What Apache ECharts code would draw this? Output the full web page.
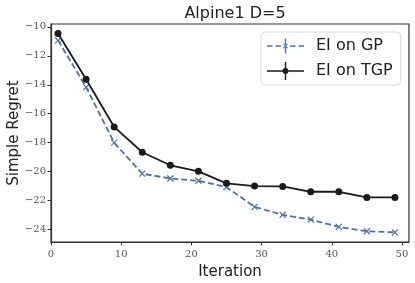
<!DOCTYPE html>
<html><head><meta charset="utf-8">
<script src="https://cdn.jsdelivr.net/npm/echarts@6/dist/echarts.min.js"></script>
<style>html,body{margin:0;padding:0;background:#fff}#c{width:415px;height:283px}</style>
</head><body><div id="c"></div>
<script>
const iterations = [1, 5, 9, 13, 17, 21, 25, 29, 33, 37, 41, 45, 49];
const eiGP  = [-10.93, -14.16, -18.0, -20.14, -20.47, -20.63, -21.07, -22.43, -22.99, -23.31, -23.82, -24.12, -24.19];
const eiTGP = [-10.45, -13.62, -16.91, -18.66, -19.56, -19.98, -20.81, -21.0, -21.02, -21.39, -21.39, -21.78, -21.78];
const yTicks = [-24, -22, -20, -18, -16, -14, -12, -10];
const xTicks = [0, 10, 20, 30, 40, 50];

const blue = '#4C72B0', black = '#1a1a1a';
const gpIcon = 'path://M0 8.2H5.5V9.8H0Z M8.5 8.2H14V9.8H8.5Z M23 8.2H28.5V9.8H23Z M31.5 8.2H37V9.8H31.5Z M17.8 1.5H19.2V16.5H17.8Z M15.9 7.1L16.6 6.4L21.1 10.9L20.4 11.6Z M20.4 6.4L21.1 7.1L16.6 11.6L15.9 10.9Z M0 0H0.01V0.01H0Z M36.99 17.99H37V18H36.99Z';
const tgpIcon = 'path://M0 8.2H37V9.8H0Z M17.8 0H19.2V18H17.8Z M15.6 9a2.9 2.9 0 1 1 5.8 0a2.9 2.9 0 1 1 -5.8 0Z';

const chart = echarts.init(document.getElementById('c'), null, {renderer: 'canvas'});
chart.setOption({
  animation: false,
  title: {text: 'Alpine1 D=5', left: 230, top: 1, textAlign: 'center',
    textStyle: {fontFamily: 'DejaVu Sans', fontSize: 16, fontWeight: 'normal', color: '#222'}},
  grid: {left: 51, right: 6, top: 24, bottom: 41, outerBoundsMode: 'none', containLabel: false,
    show: true, borderColor: '#333', borderWidth: 1.2, backgroundColor: 'transparent'},
  legend: {
    orient: 'vertical', left: 261, top: 32, padding: [5, 8, 5, 6],
    itemWidth: 37, itemHeight: 18, itemGap: 7,
    backgroundColor: 'rgba(255,255,255,0.8)', borderColor: '#d8d8d8', borderWidth: 1, borderRadius: 4,
    textStyle: {fontFamily: 'DejaVu Sans', fontSize: 16, color: '#222', padding: [0, 0, 0, 7]},
    data: [
      {name: 'EI on GP', icon: gpIcon, itemStyle: {color: blue, borderWidth: 0, opacity: 1}},
      {name: 'EI on TGP', icon: tgpIcon, itemStyle: {color: black, borderWidth: 0, opacity: 1}}
    ]
  },
  xAxis: {
    type: 'value', min: 0, max: 51,
    name: 'Iteration', nameLocation: 'middle', nameGap: 23, nameMoveOverlap: false,
    nameTextStyle: {fontFamily: 'DejaVu Sans', fontSize: 15, color: '#222'},
    axisLine: {show: true, lineStyle: {color: '#333', width: 1.2}},
    axisTick: {show: true, length: 3.5, lineStyle: {color: '#333'}, customValues: xTicks},
    axisLabel: {fontFamily: 'DejaVu Serif', fontSize: 10, color: '#555', margin: 7, customValues: xTicks},
    splitLine: {show: false}
  },
  yAxis: {
    type: 'value', min: -24.86, max: -9.8,
    name: 'Simple Regret', nameLocation: 'middle', nameGap: 29, nameMoveOverlap: false,
    nameTextStyle: {fontFamily: 'DejaVu Sans', fontSize: 15, color: '#222'},
    axisLine: {show: true, lineStyle: {color: '#333', width: 1.2}},
    axisTick: {show: true, length: 3.5, lineStyle: {color: '#333'}, customValues: yTicks},
    axisLabel: {fontFamily: 'DejaVu Serif', fontSize: 10, color: '#555', margin: 5, customValues: yTicks,
      formatter: v => (v < 0 ? '\u2212' + Math.abs(v) : String(v))},
    splitLine: {show: false}
  },
  series: [
    {name: 'EI on GP', type: 'line', data: iterations.map((x, i) => [x, eiGP[i]]),
      symbol: 'path://M0 0L10 10M10 0L0 10', symbolSize: 6,
      lineStyle: {color: blue, width: 1.8, type: [6, 3]},
      itemStyle: {color: blue, borderColor: blue, borderWidth: 1.2}, z: 2},
    {name: 'EI on TGP', type: 'line', data: iterations.map((x, i) => [x, eiTGP[i]]),
      symbol: 'circle', symbolSize: 7,
      lineStyle: {color: black, width: 1.8},
      itemStyle: {color: black}, z: 3}
  ]
});
</script></body></html>
